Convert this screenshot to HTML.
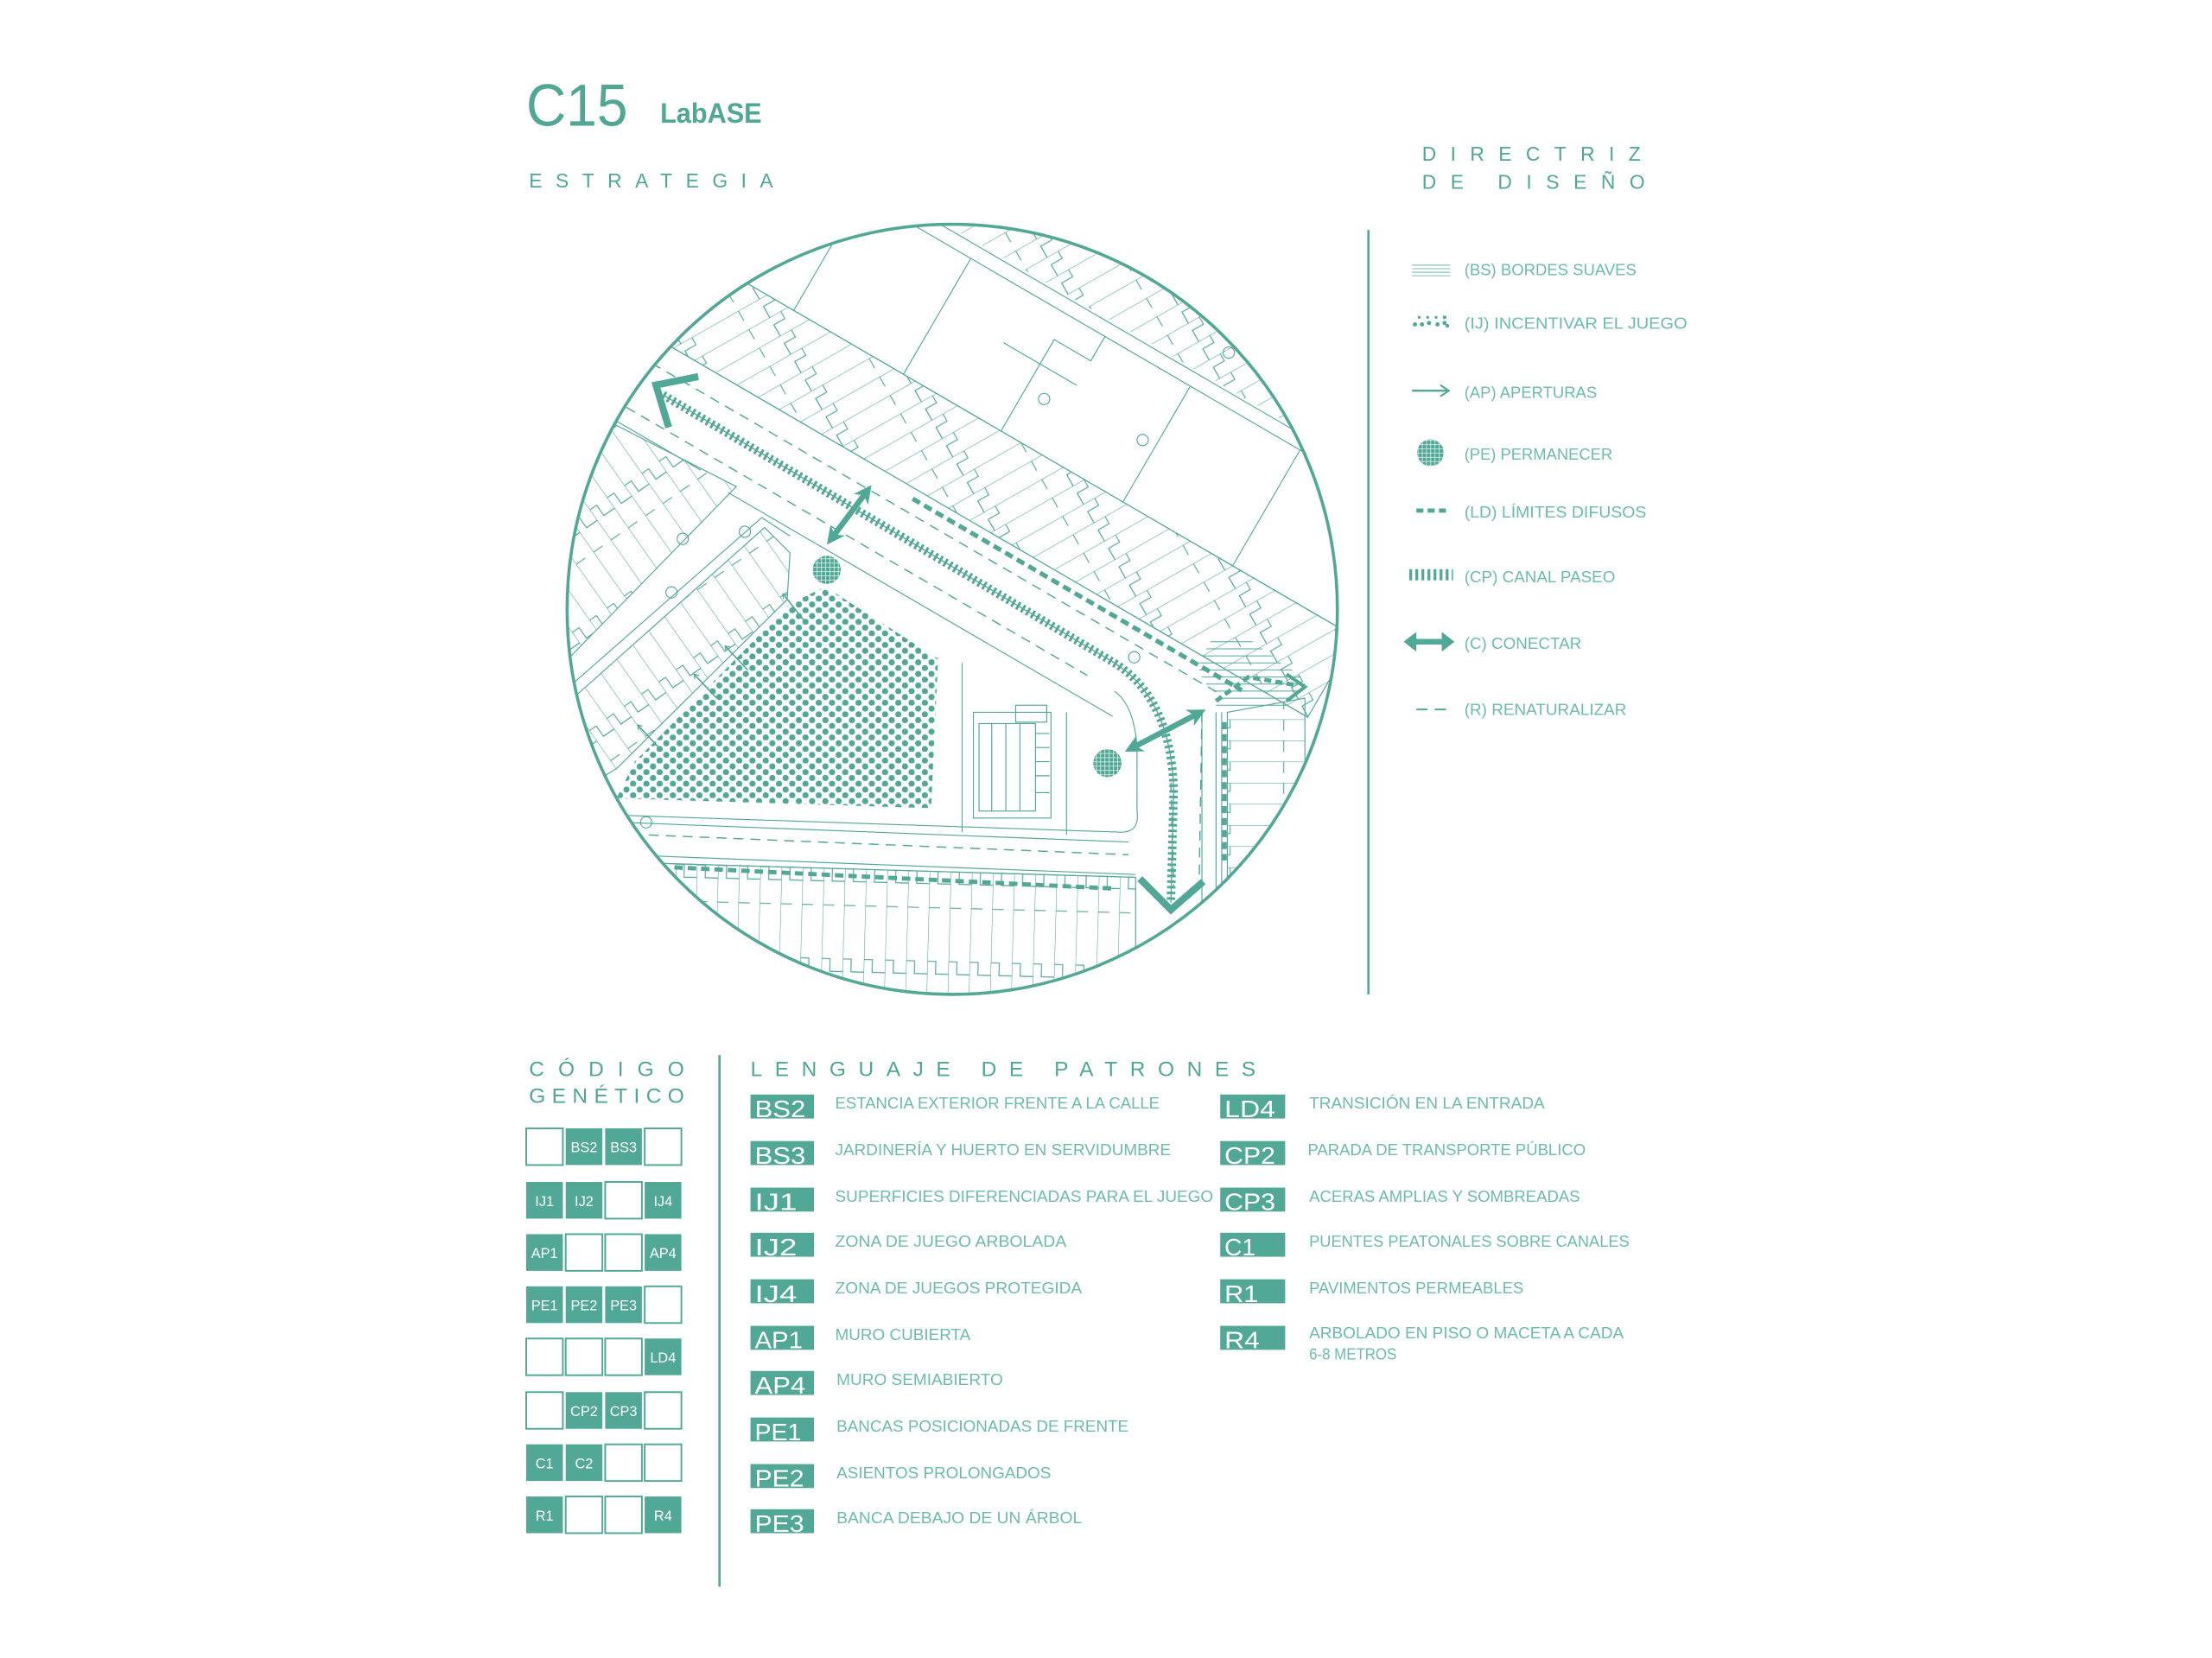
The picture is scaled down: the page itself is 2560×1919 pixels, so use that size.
<!DOCTYPE html>
<html><head><meta charset="utf-8"><style>
html,body{margin:0;padding:0;background:#fff;}
svg{display:block;}
text{font-family:"Liberation Sans",sans-serif;}
</style></head><body>
<svg width="2560" height="1919" viewBox="0 0 1568 1175.5" preserveAspectRatio="none" xmlns="http://www.w3.org/2000/svg">
<defs>
<clipPath id="cc"><circle cx="675" cy="432" r="273"/></clipPath>
<pattern id="lots" width="15" height="64" patternUnits="userSpaceOnUse">
<path d="M0,0V64 M0,24h6v9h9 M0,50h8" stroke="#52a897" stroke-width="0.7" fill="none"/>
</pattern>
<pattern id="lots30" href="#lots" patternTransform="rotate(30.2)"/>
<pattern id="lotsm35" href="#lots" patternTransform="rotate(-35)"/>
<pattern id="lots2" href="#lots" patternTransform="rotate(1.5)"/>
<pattern id="lots90" href="#lots" patternTransform="rotate(90)"/>
<pattern id="dots" width="9.4" height="8.2" patternUnits="userSpaceOnUse">
<circle cx="2.3" cy="2.2" r="2.2" fill="#52a897"/><circle cx="7" cy="6.3" r="2.2" fill="#52a897"/>
</pattern>
<pattern id="grid" width="3" height="3" patternUnits="userSpaceOnUse">
<rect width="3" height="3" fill="#52a897"/><path d="M0,0H3M0,0V3" stroke="#fff" stroke-width="0.8"/>
</pattern>
<marker id="ah" viewBox="0 0 10 10" refX="5" refY="5" markerWidth="3.2" markerHeight="3.2" orient="auto-start-reverse">
<path d="M0,0L10,5L0,10L3,5Z" fill="#52a897"/></marker>
<marker id="sa" viewBox="0 0 10 10" refX="8" refY="5" markerWidth="5" markerHeight="5" orient="auto">
<path d="M2,1L8,5L2,9" fill="none" stroke="#52a897" stroke-width="1.5"/></marker>
</defs>

<text x="373" y="89" font-size="42" fill="#4fa794" textLength="72" lengthAdjust="spacingAndGlyphs">C15</text>
<text x="468" y="87" font-size="20" font-weight="bold" fill="#4fa794" textLength="72" lengthAdjust="spacingAndGlyphs">LabASE</text>
<text x="375" y="133" font-size="14" fill="#4fa794" textLength="173" lengthAdjust="spacing">ESTRATEGIA</text>
<text x="1008" y="114" font-size="14" fill="#4fa794" textLength="155" lengthAdjust="spacing">DIRECTRIZ</text>
<text x="1008" y="134" font-size="14" fill="#4fa794" textLength="158" lengthAdjust="spacing">DE DISEÑO</text>

<g clip-path="url(#cc)" stroke="#52a897" stroke-width="0.7" fill="none">
<g transform="translate(463,272) rotate(30.2)">
<rect x="-120" y="-95" width="640" height="66" fill="url(#lots30)"/>
<line x1="-120" y1="-29" x2="520" y2="-29"/>
<line x1="-120" y1="-95" x2="520" y2="-95"/>
<line x1="-120" y1="-190" x2="560" y2="-190"/>
<line x1="-120" y1="-200" x2="560" y2="-200"/>
<rect x="-120" y="-280" width="680" height="78" fill="url(#lots30)" stroke="none"/>
<path d="M60,-95V-190 M150,-95V-190 M230,-95V-170h30v-20 M330,-95V-190 M420,-95V-190 M200,-150h60"/>
<circle cx="245" cy="-130" r="4"/><circle cx="320" cy="-140" r="4"/>
<line x1="-120" y1="36" x2="60" y2="36"/>
<line x1="85" y1="40" x2="400" y2="40"/>
<path d="M-20,-12H460" stroke-dasharray="7 5" stroke-width="0.9"/>
<path d="M-20,24H370" stroke-dasharray="7 5" stroke-width="0.9"/>
<path d="M200,-22H470" stroke-width="3.2" stroke-dasharray="6 3.5"/>
</g>
<polygon points="380,330 430,298 522,345 400,470 380,470" fill="url(#lotsm35)"/>
<polyline points="400,490 540,367 560,380"/>
<polygon points="395,505 542,374 560,392 558,425 437,545 395,570" fill="url(#lotsm35)"/>
<circle cx="528" cy="377" r="4"/><circle cx="484" cy="382" r="4"/><circle cx="476" cy="420" r="4"/><circle cx="458" cy="583" r="4"/><circle cx="871" cy="250" r="4"/><circle cx="804" cy="466" r="4"/>
<polygon points="437,566 450,540 560,428 585,416 665,467 660,573" fill="url(#dots)" stroke="none"/>
<path d="M440,578 L795,590 Q808,590 806,575 L806,530 Q804,500 790,490"/>
<path d="M440,583 L800,597"/>
<path d="M460,592 L800,606" stroke-dasharray="7 5" stroke-width="0.9"/>
<path d="M440,606 L805,620"/>
<line x1="682" y1="470" x2="682" y2="590"/>
<line x1="756" y1="505" x2="756" y2="592"/>
<rect x="690" y="505" width="55" height="75"/>
<rect x="694" y="513" width="40" height="62"/>
<path d="M703,513v62M713,513v62M723,513v62M734,520h10M734,530h10M734,540h10M734,550h10M734,562h10"/>
<rect x="720" y="500" width="22" height="12"/>
<polygon points="465,612 805,622 805,720 465,720" fill="url(#lots2)"/>
<line x1="465" y1="612" x2="805" y2="622"/>
<path d="M478,615 L790,630" stroke-width="3" stroke-dasharray="6 3.5"/>
<polygon points="870,505 925,495 925,640 870,640" fill="url(#lots90)"/>
<path d="M862,505 V640 M866,505V640 M852,505V640"/>
<path d="M868,512 V610" stroke-width="3.2" stroke-dasharray="5 3.5"/>
<path d="M830,555 L832,630" stroke-dasharray="7 5" stroke-width="0.9"/>
<path d="M852,505 L850,628" stroke-dasharray="7 5" stroke-width="0.9"/>
<path d="M858,455h30M855,460h40M852,465h50M850,470h58M850,475h66M852,480h70M855,485h70M860,490h60M865,495h50M862,500h50" stroke-width="0.6"/>
<path d="M862,497 L885,480 L920,486" stroke-width="3" stroke-dasharray="5 3"/>
<path d="M912,478 L925,487 L912,497" stroke-width="2.5"/>
<path d="M470,280 L790,470 Q830,495 832,560 L830,640" stroke-width="6" stroke-dasharray="1.8 2.2"/>
<path d="M470,280 L790,470 Q830,495 832,560 L830,640" stroke-width="0.8"/>
<path d="M495,267 L465,273 L474,303" stroke-width="5"/>
<path d="M808,623 L830,645 L853,625" stroke-width="5"/>
<line x1="590" y1="381" x2="614" y2="349" stroke-width="4" marker-start="url(#ah)" marker-end="url(#ah)"/>
<line x1="803" y1="530" x2="849" y2="506" stroke-width="4" marker-start="url(#ah)" marker-end="url(#ah)"/>
<circle cx="586" cy="404" r="10" fill="url(#grid)" stroke="none"/>
<circle cx="785" cy="541" r="10" fill="url(#grid)" stroke="none"/>
<g stroke-width="1" marker-end="url(#sa)">
<line x1="570" y1="440" x2="555" y2="421"/><line x1="530" y1="475" x2="514" y2="458"/>
<line x1="508" y1="495" x2="492" y2="478"/><line x1="467" y1="530" x2="452" y2="514"/>
</g>
</g>
<circle cx="675" cy="432" r="273" fill="none" stroke="#52a897" stroke-width="2.2"/>

<line x1="970" y1="163" x2="970" y2="705" stroke="#52a897" stroke-width="1.6"/>
<g stroke="#52a897" fill="#52a897">
<path d="M1001,188h27M1001,190.5h27M1001,193h27M1001,195.5h27" stroke-width="0.5" fill="none"/>
<g stroke="none"><circle cx="1003" cy="230" r="1.5"/><circle cx="1008" cy="230" r="1.5"/><circle cx="1013" cy="229" r="1.5"/><circle cx="1019" cy="230" r="1.5"/><circle cx="1024" cy="229" r="1.5"/><circle cx="1006" cy="225" r="1"/><circle cx="1012" cy="225" r="1"/><circle cx="1018" cy="225" r="1"/><circle cx="1024" cy="225" r="1.3"/><circle cx="1026" cy="231" r="1.3"/></g>
<line x1="1001" y1="277" x2="1026" y2="277" stroke-width="1.5"/>
<path d="M1021,273L1027,277L1021,281" fill="none" stroke-width="1.3"/>
<circle cx="1014" cy="321" r="9.5" fill="url(#grid)" stroke="none"/>
<path d="M1004,362h24" stroke-width="3" stroke-dasharray="5 3"/>
<path d="M999,407.5h31" stroke-width="8" stroke-dasharray="2 2.3"/>
<line x1="1000" y1="455" x2="1027" y2="455" stroke-width="4"/>
<path d="M995,455L1004,448L1004,462Z M1031,455L1022,448L1022,462Z" stroke="none"/>
<path d="M1004,503h24" stroke-width="1.2" stroke-dasharray="8 5"/>
</g>
<g font-size="11.5" fill="#6dbcaa">
<text x="1038" y="195" textLength="122" lengthAdjust="spacingAndGlyphs">(BS) BORDES SUAVES</text>
<text x="1038" y="233" textLength="158" lengthAdjust="spacingAndGlyphs">(IJ) INCENTIVAR EL JUEGO</text>
<text x="1038" y="282" textLength="94" lengthAdjust="spacingAndGlyphs">(AP) APERTURAS</text>
<text x="1038" y="326" textLength="105" lengthAdjust="spacingAndGlyphs">(PE) PERMANECER</text>
<text x="1038" y="367" textLength="129" lengthAdjust="spacingAndGlyphs">(LD) LÍMITES DIFUSOS</text>
<text x="1038" y="413" textLength="107" lengthAdjust="spacingAndGlyphs">(CP) CANAL PASEO</text>
<text x="1038" y="460" textLength="83" lengthAdjust="spacingAndGlyphs">(C) CONECTAR</text>
<text x="1038" y="507" textLength="115" lengthAdjust="spacingAndGlyphs">(R) RENATURALIZAR</text>
</g>

<text x="375" y="763" font-size="15" fill="#4fa794" textLength="110" lengthAdjust="spacing">CÓDIGO</text>
<text x="375" y="782" font-size="15" fill="#4fa794" textLength="110" lengthAdjust="spacing">GENÉTICO</text>
<line x1="510" y1="748" x2="510" y2="1125" stroke="#52a897" stroke-width="1.6"/>
<text x="532" y="763" font-size="15" fill="#4fa794" textLength="358" lengthAdjust="spacing">LENGUAJE DE PATRONES</text>

<g font-size="10" fill="#fff" text-anchor="middle" stroke-width="1.2">
<rect x="373" y="800" width="26" height="26" fill="#fff" stroke="#52a897"/>
<rect x="401" y="800" width="26" height="26" fill="#52a897"/><text x="414" y="817">BS2</text>
<rect x="429" y="800" width="26" height="26" fill="#52a897"/><text x="442" y="817">BS3</text>
<rect x="457" y="800" width="26" height="26" fill="#fff" stroke="#52a897"/>
<rect x="373" y="838" width="26" height="26" fill="#52a897"/><text x="386" y="855">IJ1</text>
<rect x="401" y="838" width="26" height="26" fill="#52a897"/><text x="414" y="855">IJ2</text>
<rect x="429" y="838" width="26" height="26" fill="#fff" stroke="#52a897"/>
<rect x="457" y="838" width="26" height="26" fill="#52a897"/><text x="470" y="855">IJ4</text>
<rect x="373" y="875" width="26" height="26" fill="#52a897"/><text x="386" y="892">AP1</text>
<rect x="401" y="875" width="26" height="26" fill="#fff" stroke="#52a897"/>
<rect x="429" y="875" width="26" height="26" fill="#fff" stroke="#52a897"/>
<rect x="457" y="875" width="26" height="26" fill="#52a897"/><text x="470" y="892">AP4</text>
<rect x="373" y="912" width="26" height="26" fill="#52a897"/><text x="386" y="929">PE1</text>
<rect x="401" y="912" width="26" height="26" fill="#52a897"/><text x="414" y="929">PE2</text>
<rect x="429" y="912" width="26" height="26" fill="#52a897"/><text x="442" y="929">PE3</text>
<rect x="457" y="912" width="26" height="26" fill="#fff" stroke="#52a897"/>
<rect x="373" y="949" width="26" height="26" fill="#fff" stroke="#52a897"/>
<rect x="401" y="949" width="26" height="26" fill="#fff" stroke="#52a897"/>
<rect x="429" y="949" width="26" height="26" fill="#fff" stroke="#52a897"/>
<rect x="457" y="949" width="26" height="26" fill="#52a897"/><text x="470" y="966">LD4</text>
<rect x="373" y="987" width="26" height="26" fill="#fff" stroke="#52a897"/>
<rect x="401" y="987" width="26" height="26" fill="#52a897"/><text x="414" y="1004">CP2</text>
<rect x="429" y="987" width="26" height="26" fill="#52a897"/><text x="442" y="1004">CP3</text>
<rect x="457" y="987" width="26" height="26" fill="#fff" stroke="#52a897"/>
<rect x="373" y="1024" width="26" height="26" fill="#52a897"/><text x="386" y="1041">C1</text>
<rect x="401" y="1024" width="26" height="26" fill="#52a897"/><text x="414" y="1041">C2</text>
<rect x="429" y="1024" width="26" height="26" fill="#fff" stroke="#52a897"/>
<rect x="457" y="1024" width="26" height="26" fill="#fff" stroke="#52a897"/>
<rect x="373" y="1061" width="26" height="26" fill="#52a897"/><text x="386" y="1078">R1</text>
<rect x="401" y="1061" width="26" height="26" fill="#fff" stroke="#52a897"/>
<rect x="429" y="1061" width="26" height="26" fill="#fff" stroke="#52a897"/>
<rect x="457" y="1061" width="26" height="26" fill="#52a897"/><text x="470" y="1078">R4</text>
</g>

<g fill="#52a897">
<rect x="532" y="776" width="45" height="17"/><rect x="532" y="809" width="45" height="17"/>
<rect x="532" y="842" width="45" height="17"/><rect x="532" y="874" width="45" height="17"/>
<rect x="532" y="907" width="45" height="17"/><rect x="532" y="940" width="45" height="17"/>
<rect x="532" y="972" width="45" height="17"/><rect x="532" y="1005" width="45" height="17"/>
<rect x="532" y="1038" width="45" height="17"/><rect x="532" y="1070" width="45" height="17"/>
<rect x="865" y="776" width="46" height="17"/><rect x="865" y="809" width="46" height="17"/>
<rect x="865" y="842" width="46" height="17"/><rect x="865" y="874" width="46" height="17"/>
<rect x="865" y="907" width="46" height="17"/><rect x="865" y="940" width="46" height="17"/>
</g>
<g font-size="17" fill="#fff">
<text x="535" y="792" textLength="36" lengthAdjust="spacingAndGlyphs">BS2</text>
<text x="535" y="825" textLength="36" lengthAdjust="spacingAndGlyphs">BS3</text>
<text x="535" y="858" textLength="30" lengthAdjust="spacingAndGlyphs">IJ1</text>
<text x="535" y="890" textLength="30" lengthAdjust="spacingAndGlyphs">IJ2</text>
<text x="535" y="923" textLength="30" lengthAdjust="spacingAndGlyphs">IJ4</text>
<text x="535" y="956" textLength="34" lengthAdjust="spacingAndGlyphs">AP1</text>
<text x="535" y="988" textLength="36" lengthAdjust="spacingAndGlyphs">AP4</text>
<text x="535" y="1021" textLength="33" lengthAdjust="spacingAndGlyphs">PE1</text>
<text x="535" y="1054" textLength="35" lengthAdjust="spacingAndGlyphs">PE2</text>
<text x="535" y="1086" textLength="35" lengthAdjust="spacingAndGlyphs">PE3</text>
<text x="868" y="792" textLength="36" lengthAdjust="spacingAndGlyphs">LD4</text>
<text x="868" y="825" textLength="36" lengthAdjust="spacingAndGlyphs">CP2</text>
<text x="868" y="858" textLength="36" lengthAdjust="spacingAndGlyphs">CP3</text>
<text x="868" y="890" textLength="22" lengthAdjust="spacingAndGlyphs">C1</text>
<text x="868" y="923" textLength="24" lengthAdjust="spacingAndGlyphs">R1</text>
<text x="868" y="956" textLength="25" lengthAdjust="spacingAndGlyphs">R4</text>
</g>
<g font-size="11.5" fill="#6dbcaa">
<text x="592" y="786" textLength="230" lengthAdjust="spacingAndGlyphs">ESTANCIA EXTERIOR FRENTE A LA CALLE</text>
<text x="592" y="819" textLength="238" lengthAdjust="spacingAndGlyphs">JARDINERÍA Y HUERTO EN SERVIDUMBRE</text>
<text x="592" y="852" textLength="268" lengthAdjust="spacingAndGlyphs">SUPERFICIES DIFERENCIADAS PARA EL JUEGO</text>
<text x="592" y="884" textLength="164" lengthAdjust="spacingAndGlyphs">ZONA DE JUEGO ARBOLADA</text>
<text x="592" y="917" textLength="175" lengthAdjust="spacingAndGlyphs">ZONA DE JUEGOS PROTEGIDA</text>
<text x="592" y="950" textLength="96" lengthAdjust="spacingAndGlyphs">MURO CUBIERTA</text>
<text x="593" y="982" textLength="118" lengthAdjust="spacingAndGlyphs">MURO SEMIABIERTO</text>
<text x="593" y="1015" textLength="207" lengthAdjust="spacingAndGlyphs">BANCAS POSICIONADAS DE FRENTE</text>
<text x="593" y="1048" textLength="152" lengthAdjust="spacingAndGlyphs">ASIENTOS PROLONGADOS</text>
<text x="593" y="1080" textLength="174" lengthAdjust="spacingAndGlyphs">BANCA DEBAJO DE UN ÁRBOL</text>
<text x="928" y="786" textLength="167" lengthAdjust="spacingAndGlyphs">TRANSICIÓN EN LA ENTRADA</text>
<text x="927" y="819" textLength="197" lengthAdjust="spacingAndGlyphs">PARADA DE TRANSPORTE PÚBLICO</text>
<text x="928" y="852" textLength="192" lengthAdjust="spacingAndGlyphs">ACERAS AMPLIAS Y SOMBREADAS</text>
<text x="928" y="884" textLength="227" lengthAdjust="spacingAndGlyphs">PUENTES PEATONALES SOBRE CANALES</text>
<text x="928" y="917" textLength="152" lengthAdjust="spacingAndGlyphs">PAVIMENTOS PERMEABLES</text>
<text x="928" y="949" textLength="223" lengthAdjust="spacingAndGlyphs">ARBOLADO EN PISO O MACETA A CADA</text>
<text x="928" y="964" textLength="62" lengthAdjust="spacingAndGlyphs">6-8 METROS</text>
</g>
</svg>
</body></html>
